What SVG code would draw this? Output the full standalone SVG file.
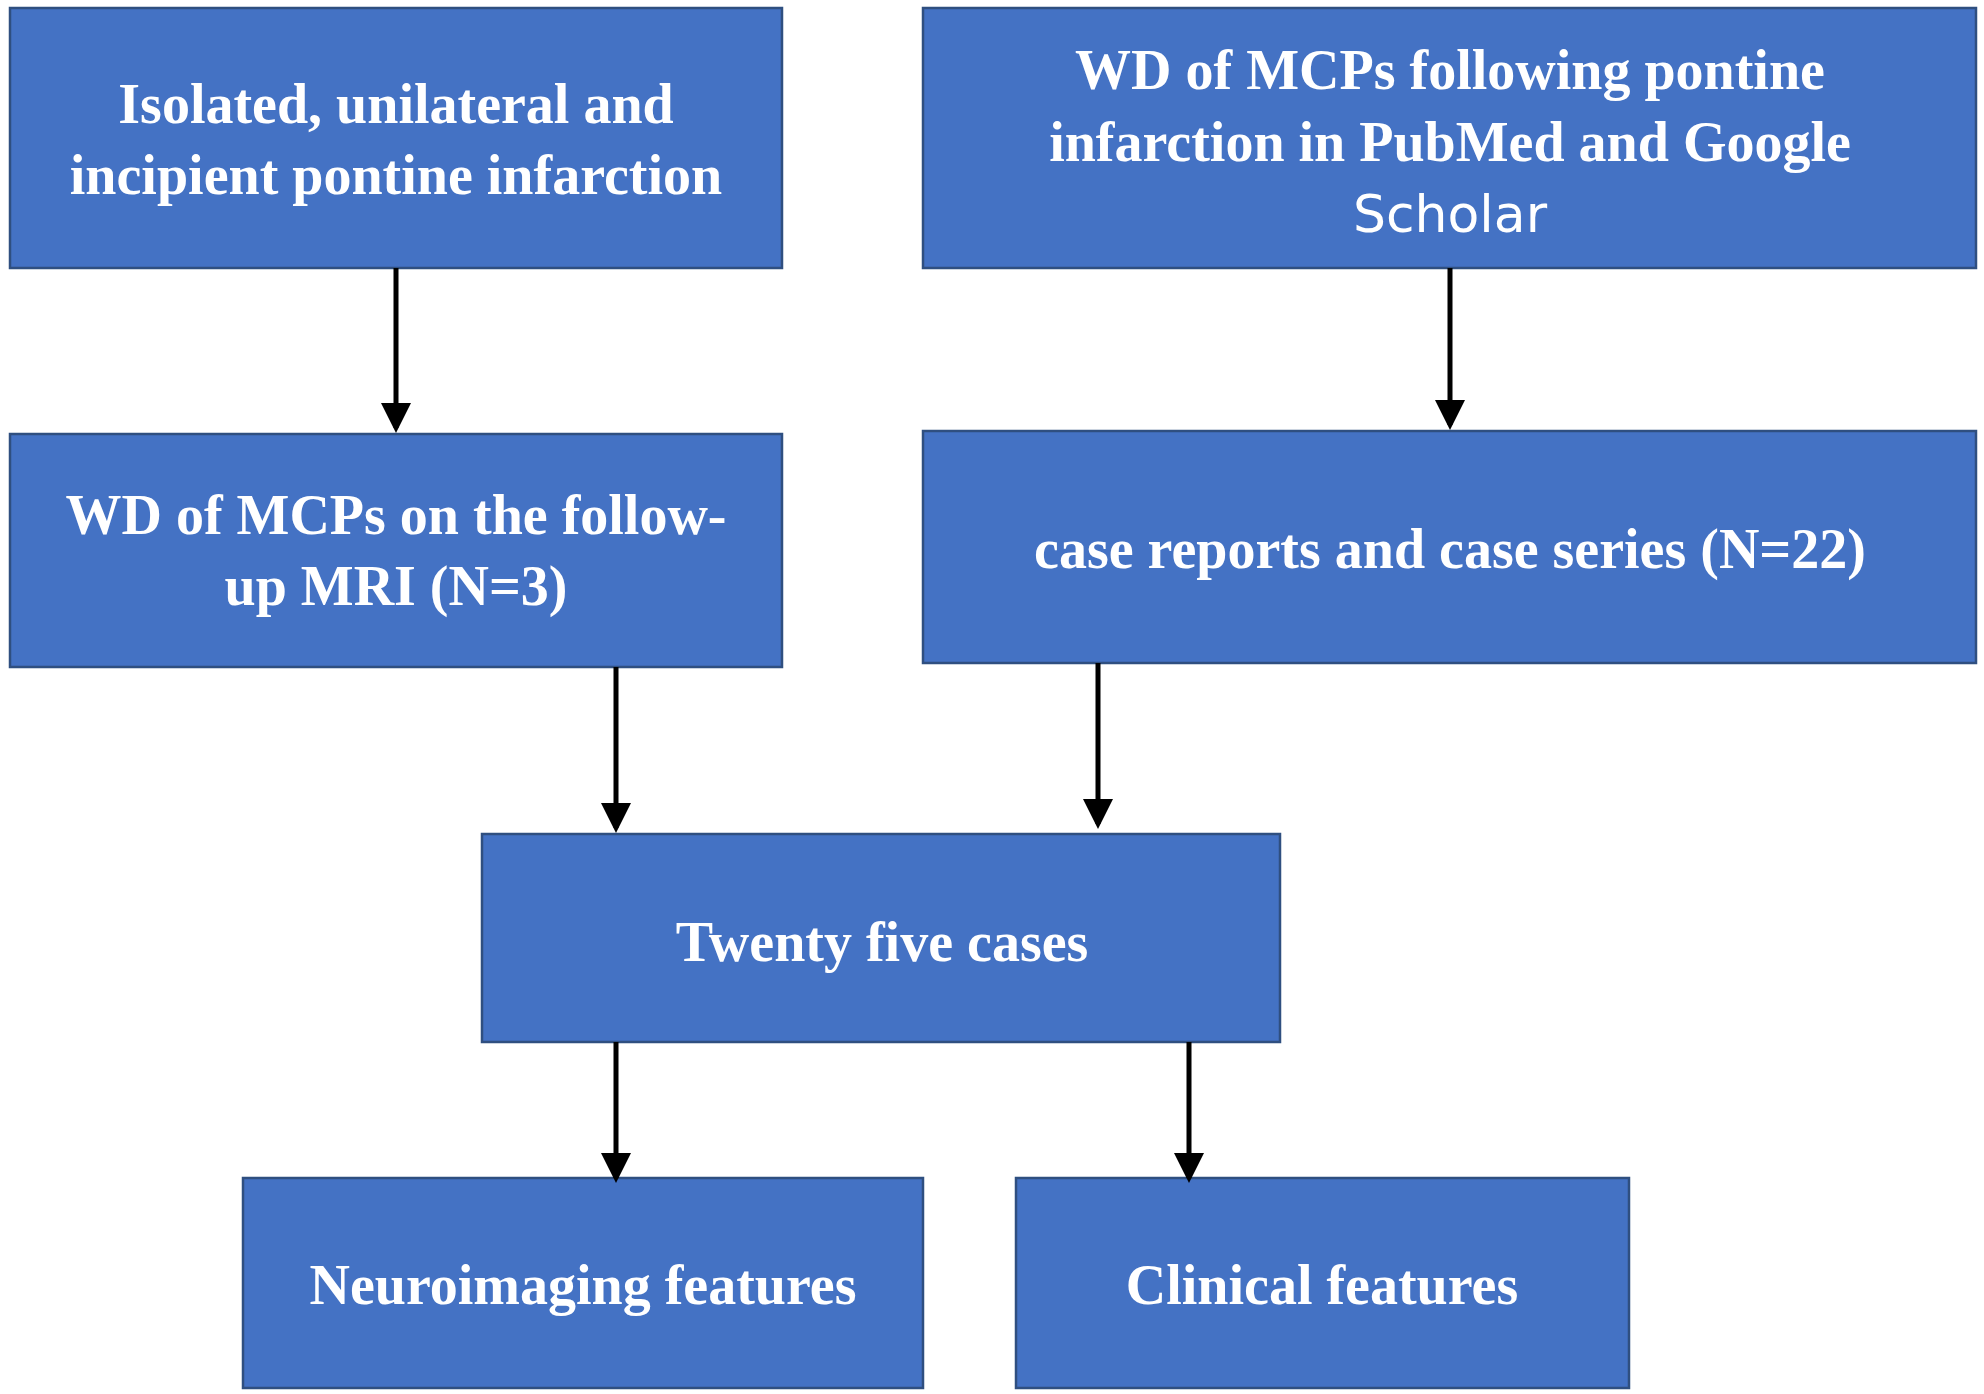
<svg xmlns="http://www.w3.org/2000/svg" width="1984" height="1394" viewBox="0 0 1984 1394">
<style>
.b{fill:#4472C4;stroke:#2F4F80;stroke-width:2.5}
.t{font-family:"Liberation Serif",serif;font-weight:bold;font-size:56px;fill:#fff;text-anchor:middle}
.s{font-family:"DejaVu Sans","Liberation Sans",sans-serif;font-size:52px;fill:#fff;text-anchor:middle}
.c{stroke:#000;stroke-width:5;fill:none;marker-end:url(#a)}
</style>
<defs><marker id="a" markerWidth="6" markerHeight="6" refX="5" refY="3" orient="auto"><path d="M0,0L6,3L0,6z" fill="#000"/></marker></defs>
<rect width="1984" height="1394" fill="#fff"/>
<g id="n1"><rect class="b" x="10" y="8" width="772" height="260"/><text class="t" x="396" y="123">Isolated, unilateral and</text><text class="t" x="396" y="194">incipient pontine infarction</text></g>
<g id="n2"><rect class="b" x="923" y="8" width="1053" height="260"/><text class="t" x="1450" y="89">WD of MCPs following pontine</text><text class="t" x="1450" y="161">infarction  in PubMed and Google</text><text class="s" x="1450" y="232">Scholar</text></g>
<g id="n3"><rect class="b" x="10" y="434" width="772" height="233"/><text class="t" x="396" y="534">WD of MCPs on the follow-</text><text class="t" x="396" y="605">up MRI (N=3)</text></g>
<g id="n4"><rect class="b" x="923" y="431" width="1053" height="232"/><text class="t" x="1450" y="568">case reports and case series (N=22)</text></g>
<g id="n5"><rect class="b" x="482" y="834" width="798" height="208"/><text class="t" x="882" y="961">Twenty five cases</text></g>
<g id="n6"><rect class="b" x="243" y="1178" width="680" height="210"/><text class="t" x="583" y="1304">Neuroimaging  features</text></g>
<g id="n7"><rect class="b" x="1016" y="1178" width="613" height="210"/><text class="t" x="1322" y="1304">Clinical features</text></g>
<g id="connectors">
<line class="c" x1="396" y1="268" x2="396" y2="428"/>
<line class="c" x1="1450" y1="268" x2="1450" y2="425"/>
<line class="c" x1="616" y1="667" x2="616" y2="828"/>
<line class="c" x1="1098" y1="663" x2="1098" y2="824"/>
<line class="c" x1="616" y1="1042" x2="616" y2="1178"/>
<line class="c" x1="1189" y1="1042" x2="1189" y2="1178"/>
</g>
</svg>
